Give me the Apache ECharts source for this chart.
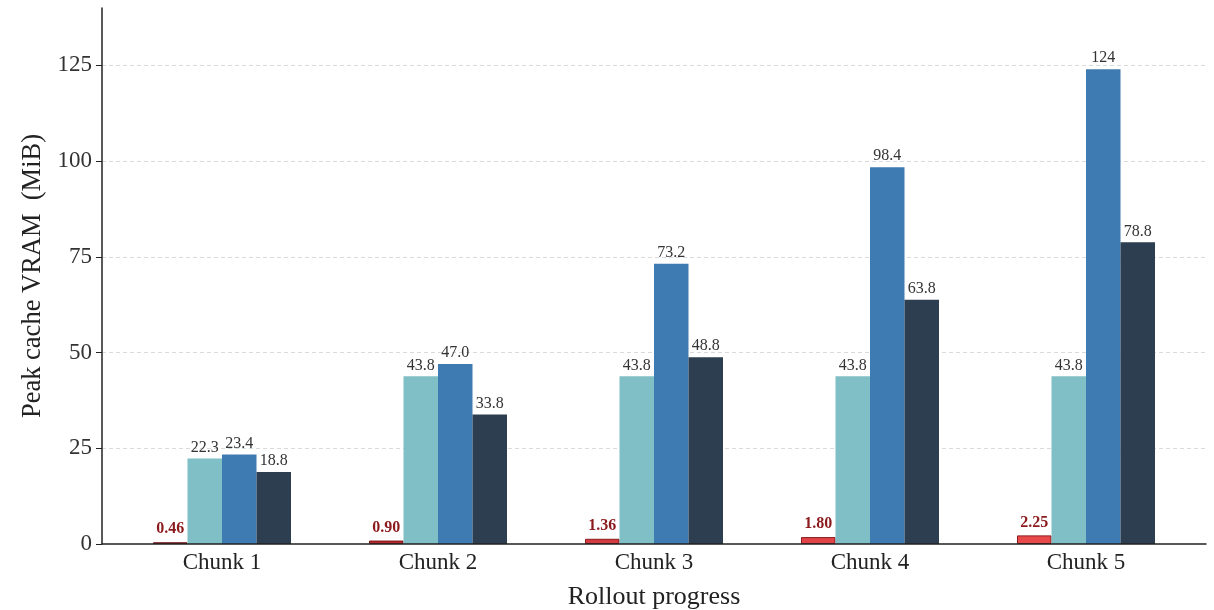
<!DOCTYPE html>
<html>
<head>
<meta charset="utf-8">
<script src="https://cdn.jsdelivr.net/npm/echarts@6/dist/echarts.min.js"></script>
<style>html,body{margin:0;padding:0;background:#fff}#c{width:1214px;height:610px}</style>
</head>
<body>
<div id="c"></div>
<script>
const categories = ['Chunk 1', 'Chunk 2', 'Chunk 3', 'Chunk 4', 'Chunk 5'];
const redValues = [0.46, 0.90, 1.36, 1.80, 2.25];
const tealValues = [22.3, 43.8, 43.8, 43.8, 43.8];
const blueValues = [23.4, 47.0, 73.2, 98.4, 124];
const darkValues = [18.8, 33.8, 48.8, 63.8, 78.8];
const redLabels = ['0.46', '0.90', '1.36', '1.80', '2.25'];
const tealLabels = ['22.3', '43.8', '43.8', '43.8', '43.8'];
const blueLabels = ['23.4', '47.0', '73.2', '98.4', '124'];
const darkLabels = ['18.8', '33.8', '48.8', '63.8', '78.8'];
const yTicks = [0, 25, 50, 75, 100, 125];
const yMax = 140;

const redFills = ['#a3252a', '#b8292e', '#d43b40', '#e04448', '#e84a4b'];
const redBorders = ['#7a1518', '#7a1518', '#8b1a1d', '#8b1a1d', '#8b1a1d'];
const FONT = '"Liberation Serif", "Times New Roman", serif';

const chart = echarts.init(document.getElementById('c'), null, {renderer: 'canvas'});

function mkSeries(name, values, labels, color) {
  return {
    name, type: 'bar', xAxisIndex: 1, yAxisIndex: 1, z: 5,
    barWidth: 34.5, barGap: '0%',
    data: values.map(v => ({value: v})),
    itemStyle: {color},
    label: {
      show: true, position: 'top', distance: 3,
      formatter: p => labels[p.dataIndex],
      fontFamily: FONT, fontSize: 16, color: '#333'
    }
  };
}

const option = {
  animation: false,
  grid: [
    {left: 102, right: 8, top: 8, bottom: 66, containLabel: false, outerBoundsMode: 'none'},
    {left: 114, right: 20, top: 8, bottom: 66, containLabel: false, outerBoundsMode: 'none'}
  ],
  xAxis: [
    {gridIndex: 0, type: 'value', min: 0, max: 1, z: 6,
     axisLine: {show: true, onZero: false, lineStyle: {color: '#222', width: 1.5}},
     axisTick: {show: false}, axisLabel: {show: false}, splitLine: {show: false}},
    {gridIndex: 1, type: 'category', data: categories,
     axisLine: {show: false}, axisTick: {show: false},
     axisLabel: {fontFamily: FONT, fontSize: 23, color: '#222', margin: 7},
     name: 'Rollout progress', nameLocation: 'middle', nameGap: 40,
     nameTextStyle: {fontFamily: FONT, fontSize: 26, color: '#222'}}
  ],
  yAxis: [
    {gridIndex: 0, type: 'value', min: 0, max: yMax, z: 6,
     axisLine: {show: true, lineStyle: {color: '#222', width: 1.5}},
     axisTick: {show: true, length: 6, lineStyle: {color: '#222'}, customValues: yTicks},
     axisLabel: {fontFamily: FONT, fontSize: 23, color: '#333', margin: 10, customValues: yTicks},
     splitLine: {show: false},
     name: 'Peak cache VRAM  (MiB)', nameLocation: 'middle', nameGap: 49,
     nameTextStyle: {fontFamily: FONT, fontSize: 26.5, color: '#222'}},
    {gridIndex: 1, type: 'value', min: 0, max: yMax, show: false, splitLine: {show: false}}
  ],
  series: [
    {
      type: 'line', xAxisIndex: 0, yAxisIndex: 0, data: [], silent: true, z: 0,
      markLine: {
        silent: true, symbol: 'none', label: {show: false}, z: 0,
        lineStyle: {color: '#dadada', type: [4, 3], width: 1},
        data: yTicks.filter(v => v > 0).map(v => ({yAxis: v}))
      }
    },
    {
      name: 'red', type: 'bar', xAxisIndex: 1, yAxisIndex: 1, z: 5,
      barWidth: 34.5, barGap: '0%',
      data: redValues.map((v, i) => ({value: v, itemStyle: {color: redFills[i], borderColor: redBorders[i], borderWidth: 1}})),
      label: {
        show: true, position: 'top', distance: 5,
        formatter: p => redLabels[p.dataIndex],
        fontFamily: FONT, fontSize: 16, fontWeight: 'bold', color: '#8b1a1d'
      }
    },
    mkSeries('teal', tealValues, tealLabels, '#7fbfc5'),
    mkSeries('blue', blueValues, blueLabels, '#3e7bb2'),
    mkSeries('dark', darkValues, darkLabels, '#2c3e50')
  ]
};
chart.setOption(option);
</script>
</body>
</html>
